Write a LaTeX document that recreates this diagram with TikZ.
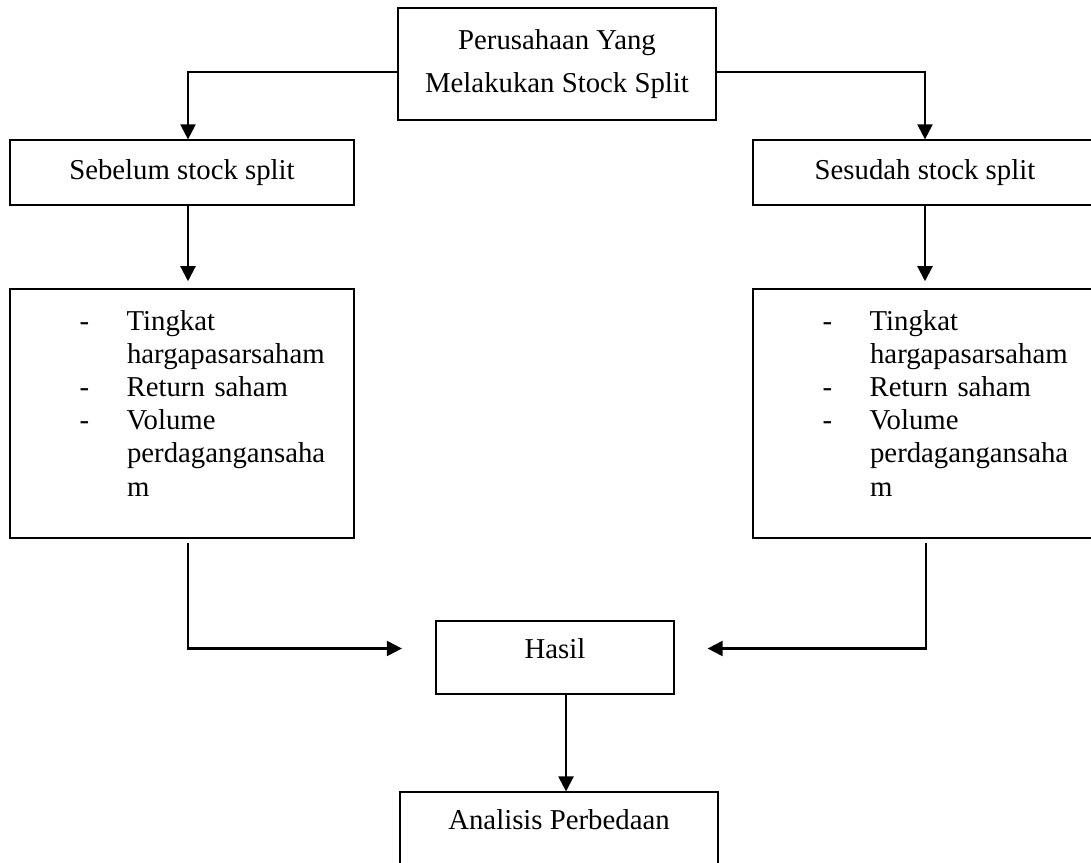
\documentclass[tikz,border=0pt]{standalone}
\usepackage{fontspec}
\setmainfont{Liberation Serif}
\usetikzlibrary{arrows.meta}
\newcommand{\butir}[1]{\hspace*{29pt}\makebox[19.6pt][l]{-}#1}
\newcommand{\lanjut}[1]{\hspace*{48.8pt}#1}
\begin{document}
\begin{tikzpicture}[x=0.417pt,y=-0.417pt,
  box/.style={draw,line width=0.5pt,inner sep=0pt,font=\fontsize{12}{13.8}\selectfont},
  daftar/.style={box,align=left,text width=143.4pt,minimum height=103.8pt,text depth=77.5pt},
  arr/.style={-{Triangle[width=6.3pt,length=6.3pt]},line width=0.9pt}]
  \useasboundingbox (0,0) rectangle (1091,863);
  \node[box,align=center,minimum width=132.6pt,minimum height=46.7pt] (perusahaan) at (557,64)
    {Perusahaan Yang\\[4.2pt]Melakukan Stock Split};
  \node[box,minimum width=143.4pt,minimum height=27.1pt] (sebelum) at (182,172.5) {Sebelum stock split};
  \node[box,minimum width=143.4pt,minimum height=27.1pt] (sesudah) at (925,172.5) {Sesudah stock split};
  \node[daftar] (kiri) at (182,413.5)
    {\butir{Tingkat}\\ \lanjut{hargapasarsaham}\\ \butir{Return saham}\\ \butir{Volume}\\ \lanjut{perdagangansaha}\\ \lanjut{m}};
  \node[daftar] (kanan) at (925,413.5)
    {\butir{Tingkat}\\ \lanjut{hargapasarsaham}\\ \butir{Return saham}\\ \butir{Volume}\\ \lanjut{perdagangansaha}\\ \lanjut{m}};
  \node[box,minimum width=99.2pt,minimum height=30.4pt,text depth=7.5pt] (hasil) at (555,657.5) {Hasil};
  \node[box,minimum width=132.6pt,minimum height=30.4pt,text depth=7.5pt] (analisis) at (559,828.5) {Analisis Perbedaan};
  % top split
  \draw[arr] ([yshift=-3.3pt]perusahaan.west) -| ([xshift=2.5pt]sebelum.north);
  \draw[arr] ([yshift=-3.3pt]perusahaan.east) -| (sesudah.north);
  \draw[arr,shorten >=3pt] ([xshift=2.5pt]sebelum.south) -- ([xshift=2.5pt]kiri.north);
  \draw[arr,shorten >=3pt] (sesudah.south) -- (kanan.north);
  % to hasil
  \draw[arr] ([xshift=2.5pt,yshift=-2pt]kiri.south) |- ([xshift=-14pt,yshift=3.75pt]hasil.west);
  \draw[arr] ([xshift=0.4pt,yshift=-2pt]kanan.south) |- ([xshift=13.8pt,yshift=3.75pt]hasil.east);
  \draw[arr] ([xshift=4.6pt]hasil.south) -- ([xshift=4.6pt]hasil.south |- analisis.north);
\end{tikzpicture}
\end{document}
